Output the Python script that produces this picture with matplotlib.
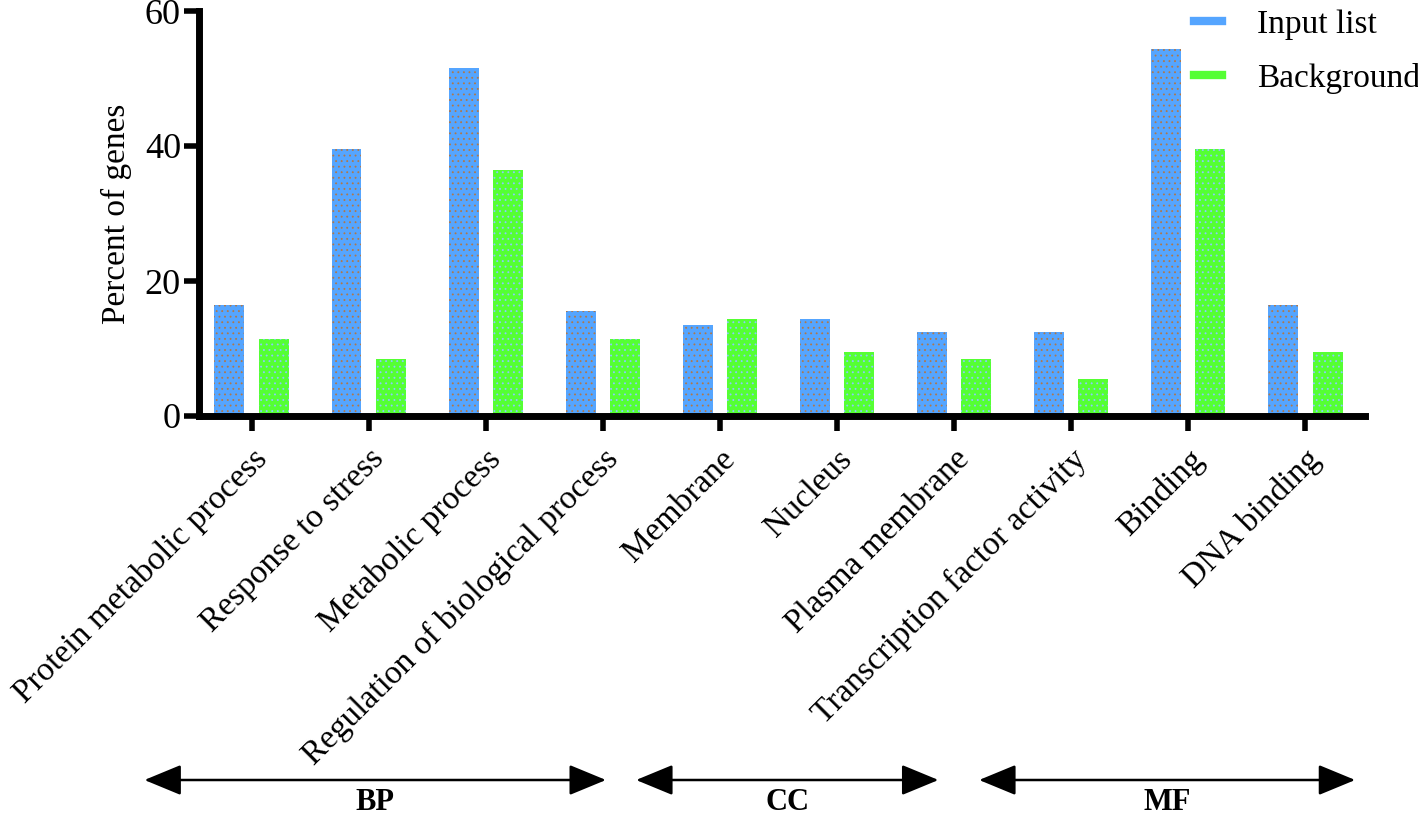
import numpy as np
import matplotlib
matplotlib.use("Agg")
import matplotlib.pyplot as plt
from matplotlib.patches import FancyArrowPatch
from matplotlib.lines import Line2D

categories = ["Protein metabolic process", "Response to stress", "Metabolic process",
              "Regulation of biological process", "Membrane", "Nucleus",
              "Plasma membrane", "Transcription factor activity", "Binding", "DNA binding"]
input_list = [16.4, 39.5, 51.5, 15.5, 13.5, 14.4, 12.4, 12.4, 54.4, 16.4]
background = [11.4, 8.4, 36.4, 11.4, 14.4, 9.5, 8.4, 5.5, 39.5, 9.5]
groups = ["BP", "CC", "MF"]
# group spans in category index units (start, end)
group_spans = [(-0.94, 3.05), (3.26, 5.89), (6.19, 9.45)]

plt.rcParams['font.family'] = ['Liberation Serif', 'DejaVu Serif']
plt.rcParams['hatch.linewidth'] = 0.6

fig = plt.figure(figsize=(14.18, 8.18), dpi=100)
W, H = 1418, 818
ax = fig.add_axes([199 / W, 1 - 416 / H, (1365 - 199) / W, (416 - 11) / H])

x = np.arange(len(categories))
bw = 0.256
off = 0.19
blue = '#55A5FF'
green = '#55FF33'
ax.bar(x - off, input_list, bw, color=blue, edgecolor='#B0784A', linewidth=0, hatch='...')
ax.bar(x + off, background, bw, color=green, edgecolor='#8CC8FF', linewidth=0, hatch='...')

ax.set_xlim(-0.45, 9.51)
ax.set_ylim(0, 60)
ax.set_yticks([0, 20, 40, 60])
ax.set_xticks(x)
ax.set_xticklabels(categories, rotation=45, ha='right', va='top', rotation_mode='anchor',
                   fontsize=24)

for s in ['top', 'right']:
    ax.spines[s].set_visible(False)
for s in ['left', 'bottom']:
    ax.spines[s].set_linewidth(5)
    ax.spines[s].set_capstyle('projecting')
ax.tick_params(axis='both', width=4, length=11, direction='out')
ax.tick_params(axis='y', pad=2, labelsize=26)
ax.tick_params(axis='x', pad=9)

ax.set_ylabel('Percent of genes', fontsize=24)
ax.yaxis.set_label_coords(-0.0575, 0.5)

handles = [Line2D([0], [0], color=blue, lw=6), Line2D([0], [0], color=green, lw=6)]
fig.legend(handles, ['Input list', 'Background'], loc='upper left',
           bbox_to_anchor=(1194 / W, 1 - 9 / H), frameon=False, fontsize=24,
           handlelength=0.85, handletextpad=1.05, labelspacing=0.7,
           borderpad=0, borderaxespad=0)

# bracket arrows for GO categories
trans = matplotlib.transforms.blended_transform_factory(ax.transData, fig.transFigure)
y_arrow = 1 - 780 / H
for name, (a, b) in zip(groups, group_spans):
    arr = FancyArrowPatch((a, y_arrow), (b, y_arrow), transform=trans,
                          arrowstyle='<|-|>,head_length=2.3,head_width=0.95',
                          mutation_scale=10, color='black', lw=1.8, clip_on=False)
    fig.patches.append(arr)
    fig.text((a + b) / 2, 1 - 803 / H, name, transform=trans, ha='center', va='center',
             fontsize=22, fontweight='bold')

fig.savefig('out.png', dpi=100)
